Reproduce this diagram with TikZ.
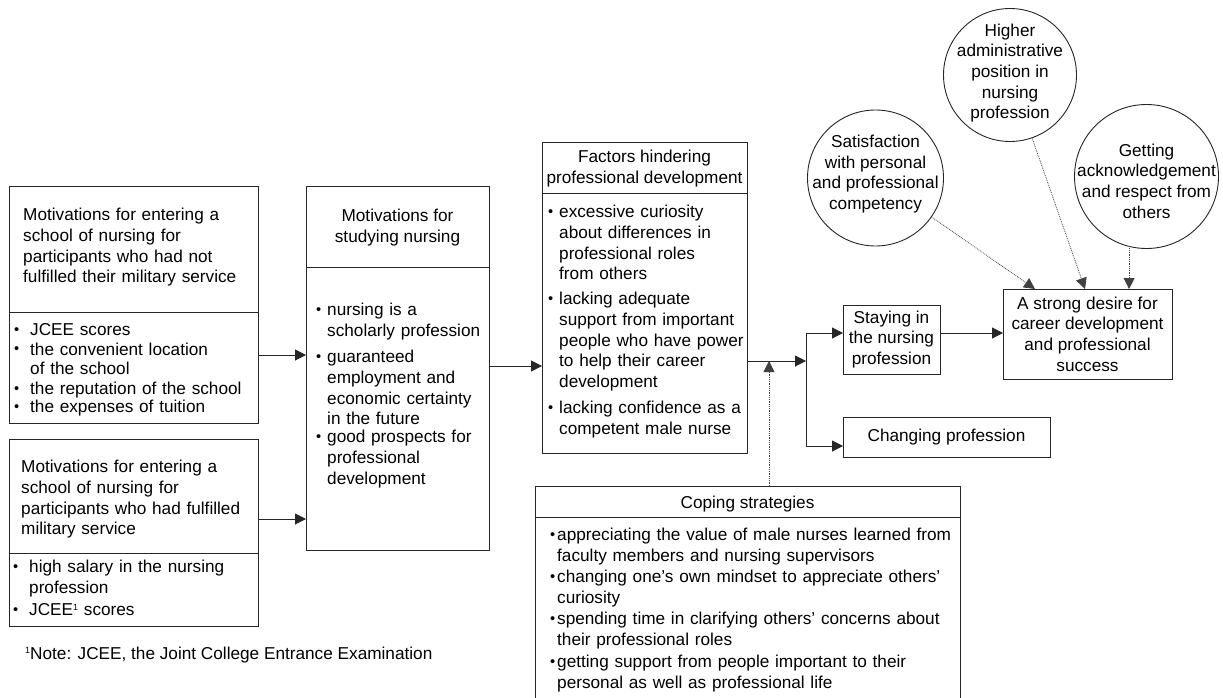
\documentclass[tikz,border=0pt]{standalone}
\usepackage{fontspec}
\setmainfont{Liberation Sans}
\usepackage{graphicx}
\usetikzlibrary{arrows.meta}
\newcommand\fs{\fontsize{17.2}{20.6}\selectfont}
\newcommand\sbul{\raisebox{0.2ex}{\scalebox{0.85}{\textbullet}}}
\newcommand\bitem[2]{\makebox[#1][l]{\sbul}\begin{tabular}[t]{@{}l@{}}#2\end{tabular}}
\newcommand\supone{\raisebox{0.6ex}{\fontsize{9}{9}\selectfont 1}}
\begin{document}
\begin{tikzpicture}[x=1pt,y=-1pt,
  bx/.style={draw=black!85, line width=1pt, inner sep=0pt, outer sep=0pt, align=center, font=\fs},
  circ/.style={circle, draw=black!85, line width=0.9pt, inner sep=0pt, outer sep=0pt},
  lt/.style={anchor=north west, inner sep=0pt, text width=440pt, align=left, font=\fs},
  ct/.style={anchor=north, inner sep=0pt, align=center, font=\fs},
  cc/.style={inner sep=0pt, align=center, font=\fs},
  ln/.style={draw=black!85, line width=1pt},
  arr/.style={ln, -{Triangle[length=11pt,width=11pt]}},
  dar/.style={draw=black!75, line width=0.8pt, densely dotted, -{Triangle[length=11pt,width=11pt]}}]
\fill[white] (0,0) rectangle (1223,698);
\useasboundingbox (0,0) rectangle (1223,698);

% boxes
\node[bx, minimum width=249pt, minimum height=237pt] (b1) at (133.5,304.5) {};
\draw[ln] (b1.west |- 0,312) -- (b1.east |- 0,312);
\node[bx, minimum width=249pt, minimum height=187pt] (b2) at (133.5,532.5) {};
\draw[ln] (b2.west |- 0,553) -- (b2.east |- 0,553);
\node[bx, minimum width=183pt, minimum height=364pt] (mid) at (397.5,368) {};
\draw[ln] (mid.west |- 0,267) -- (mid.east |- 0,267);
\node[bx, minimum width=205pt, minimum height=310pt] (fac) at (644.5,298) {};
\draw[ln] (fac.west |- 0,193) -- (fac.east |- 0,193);
\node[bx, minimum width=425pt, minimum height=212.5pt] (cope) at (747.5,592.25) {};
\draw[ln] (cope.west |- 0,517) -- (cope.east |- 0,517);
\node[bx, minimum width=97pt, minimum height=69pt] (stay) at (891.5,339.5) {Staying in\\the nursing\\profession};
\node[bx, minimum width=169pt, minimum height=90pt] (strong) at (1087.5,334) {A strong desire for\\career development\\and professional\\success};
\node[bx, minimum width=207pt, minimum height=40pt] (chg) at (946.5,437) {Changing profession};

% circles
\node[circ, minimum size=133pt] (hi) at (1010,75) {};
\node[circ, minimum size=136pt] (sat) at (875.5,178) {};
\node[circ, minimum size=144pt] (get) at (1146.5,176.5) {};
\node[cc] (hit) at ([yshift=2pt]hi.center) {Higher\\administrative\\position in\\nursing\\profession};
\node[cc] (satt) at ([yshift=4pt]sat.center) {Satisfaction\\with personal\\and professional\\competency};
\node[cc] (gett) at ([yshift=-4.5pt]get.center) {Getting\\acknowledgement\\and respect from\\others};

% box 1 texts
\node[lt] (t1) at (23,206.3) {\strut Motivations for entering a\\school of nursing for\\participants who had not\\fulfilled their military service};
\node[lt] (t1a) at (14,321.3) {\bitem{16pt}{JCEE scores}};
\node[lt] (t1b) at (14,341.3) {\fontsize{17.2}{19.4}\selectfont\bitem{16pt}{the convenient location\\of the school}};
\node[lt] (t1c) at (14,380.3) {\bitem{16pt}{the reputation of the school}};
\node[lt] (t1d) at (14,398.3) {\bitem{16pt}{the expenses of tuition}};

% box 2 texts
\node[lt] (t2) at (21,458.3) {\strut Motivations for entering a\\school of nursing for\\participants who had fulfilled\\military service};
\node[lt] (t2a) at (13,558.3) {\bitem{16pt}{high salary in the nursing\\profession}};
\node[lt] (t2b) at (13,601.3) {\bitem{16pt}{JCEE\supone{} scores}};

% middle texts
\node[ct] (tm) at (397.5,207.3) {\strut Motivations for\\studying nursing};
\node[lt] (tma) at (316,301.3) {\bitem{11pt}{nursing is a\\scholarly profession}};
\node[lt] (tmb) at (316,348.3) {\bitem{11pt}{guaranteed\\employment and\\economic certainty\\in the future}};
\node[lt] (tmc) at (316,428.3) {\bitem{11pt}{good prospects for\\professional\\development}};

% factors texts
\node[ct] (tf) at (644.5,148.3) {\strut Factors hindering\\professional development};
\node[lt] (tfa) at (548,203.3) {\bitem{11pt}{excessive curiosity\\about differences in\\professional roles\\from others}};
\node[lt] (tfb) at (548,290.3) {\bitem{11pt}{lacking adequate\\support from important\\people who have power\\to help their career\\development}};
\node[lt] (tfc) at (548,399.3) {\bitem{11pt}{lacking confidence as a\\competent male nurse}};

% coping texts
\node[ct] (tc) at (747.5,494.3) {\strut Coping strategies};
\node[lt] (tca) at (550,526.3) {\bitem{7pt}{appreciating the value of male nurses learned from\\faculty members and nursing supervisors}};
\node[lt] (tcb) at (550,568.3) {\bitem{7pt}{changing one’s own mindset to appreciate others’\\curiosity}};
\node[lt] (tcc) at (550,610.3) {\bitem{7pt}{spending time in clarifying others’ concerns about\\their professional roles}};
\node[lt] (tcd) at (550,653.3) {\bitem{7pt}{getting support from people important to their\\personal as well as professional life}};

% footnote
\node[anchor=base west, inner sep=0pt, font=\fs] (note) at (25,659) {\supone Note: JCEE, the Joint College Entrance Examination};

% connectors
\coordinate (j) at (806,361);
\coordinate (jt) at (806,333);
\coordinate (jb) at (806,446);
\draw[arr] (b1.east |- 0,355) -- (mid.west |- 0,355);
\draw[arr] (b2.east |- 0,519) -- (mid.west |- 0,519);
\draw[arr] (mid.east |- 0,366) -- (fac.west |- 0,366);
\draw[arr] (fac.east |- j) -- (j);
\draw[ln] (jt) -- (jb);
\draw[arr] (jt) -- (stay.west |- jt);
\draw[arr] (jb) -- (chg.west |- jb);
\draw[arr] (stay.east |- jt) -- (strong.west |- jt);
\draw[dar] (cope.north -| 769,0) -- (j -| 769,0);
\draw[dar] (sat) -- (strong.north -| 1035,0);
\draw[dar] (hi) -- (strong.north -| 1085,0);
\draw[dar] (get.-104) -- (strong.north -| get.-104);
\end{tikzpicture}
\end{document}
